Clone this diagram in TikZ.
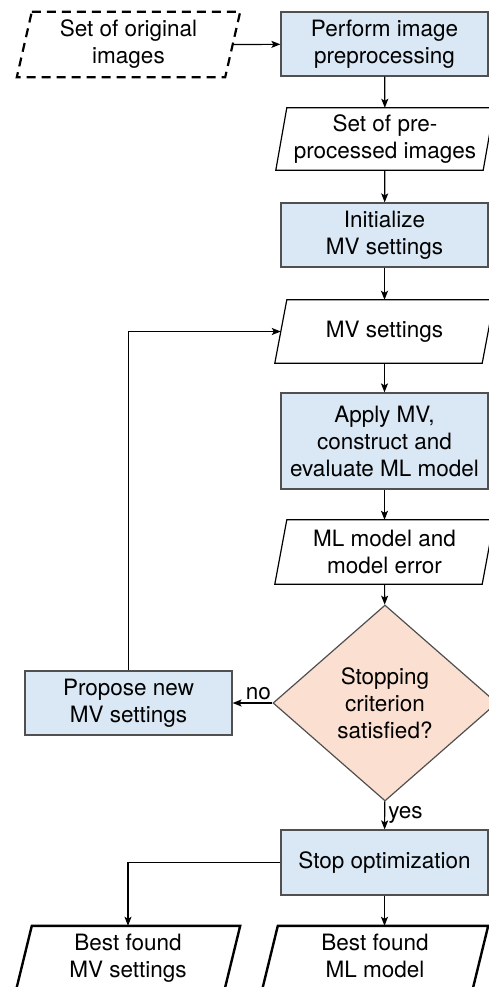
\documentclass[tikz,border=0pt]{standalone}
\usepackage{fontspec}
\setmainfont{TeX Gyre Heros}
\usetikzlibrary{shapes.geometric,arrows.meta}
\definecolor{procblue}{HTML}{DAE8F5}
\definecolor{decpeach}{HTML}{FBE0D2}
\definecolor{procline}{HTML}{505050}
\tikzset{
    every node/.style={font=\fontsize{22.5}{27}\selectfont, align=center},
    proc/.style={rectangle, draw=procline, fill=procblue, line width=1.2pt,
        minimum width=207, minimum height=64, inner sep=0pt},
    data/.style={rectangle, minimum width=219, minimum height=63, inner sep=0pt},
    flow/.style={line width=1.2pt, -{Stealth[length=9pt,width=7pt,inset=2pt]}}
}
% parallelogram frame round a data node: \dataframe[opts]{node}{slant}
\newcommand{\dataframe}[3][]{%
    \draw[line width=1.2pt, #1] ([xshift=#3]#2.north west) -- (#2.north east)
        -- ([xshift=-#3]#2.south east) -- (#2.south west) -- cycle;}
\begin{document}
\begin{tikzpicture}[x=1pt,y=-1pt]
        \clip (0,0) rectangle (489,987);
        \node[data, minimum width=223, minimum height=65] (orig) at (128.5,44.5)
            {Set of original\\images};
        \node[proc] (prep) at (384.5,44) {Perform image\\preprocessing};
        \node[data, minimum width=218, minimum height=62] (preset) at (385,139)
            {Set of pre-\\processed images};
        \node[proc] (init) at (384.5,235) {Initialize\\MV settings};
        \node[data] (mvset) at (384.5,331.5) {MV settings};
        \node[proc, minimum height=96] (apply) at (384.5,441)
            {Apply MV,\\construct and\\evaluate ML model};
        \node[data, minimum height=64] (mlset) at (384.5,552) {ML model and\\model error};
        \node[diamond, draw=procline, fill=decpeach, line width=1.2pt, inner sep=0pt,
            minimum width=224, minimum height=196] (stopq) at (385,703)
            {Stopping\\criterion\\satisfied?};
        \node[proc] (propose) at (128.5,703) {Propose new\\MV settings};
        \node[proc, minimum height=65] (stopopt) at (384.5,862.5) {Stop optimization};
        \node[data, minimum width=224, minimum height=65] (bestmv) at (128,958.5)
            {Best found\\MV settings};
        \node[data, minimum width=226, minimum height=65] (bestml) at (375,958.5)
            {Best found\\ML model\vphantom{g}};

        % frames of the data nodes
        \dataframe[dashed, dash pattern=on 9pt off 6pt, line width=2.2pt]{orig}{15}
        \dataframe{preset}{11}
        \dataframe{mvset}{12}
        \dataframe{mlset}{12}
        \dataframe[line width=2.4pt]{bestmv}{16}
        \dataframe[line width=2.4pt]{bestml}{16}

        \draw[flow] ([xshift=-7.5]orig.east) -- (prep);
        \draw[flow] (prep) -- (preset);
        \draw[flow] (preset) -- (init);
        \draw[flow] (init) -- (mvset);
        \draw[flow] (mvset) -- (apply);
        \draw[flow] (apply) -- (mlset);
        \draw[flow] (mlset) -- (stopq);
        \draw[flow] (stopq) -- node[above, pos=0.35, inner sep=3pt] {no} (propose);
        \draw[flow] (propose.north) |- ([xshift=6]mvset.west);
        \draw[flow] (stopq) -- node[right, inner sep=3pt] {yes} (stopopt);
        \draw[flow] (stopopt.west) -| (bestmv.north);
        \draw[flow] (stopopt.south) -- (stopopt.south |- bestml.north);
\end{tikzpicture}
\end{document}
